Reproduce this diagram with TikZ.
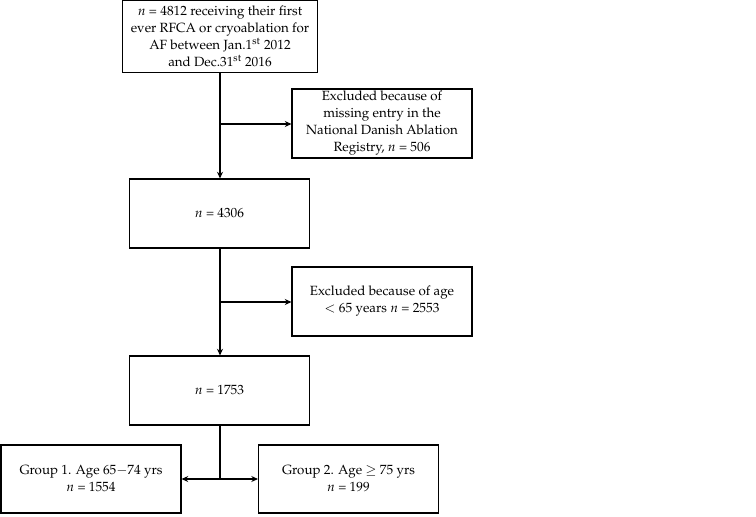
\documentclass[tikz,border=0pt]{standalone}
\usepackage{amsmath}
\usepackage[T1]{fontenc}
\usepackage{mathpazo}
\usetikzlibrary{arrows.meta}

\begin{document}
\begin{tikzpicture}[x=0.75pt,y=-0.75pt,
    box/.style={draw,line width=0.8pt,align=center,inner sep=0pt,
      font=\fontsize{10}{12.75}\selectfont},
    flow/.style={line width=1.1pt,-{Stealth[length=5pt,width=4.5pt]}}]

  \useasboundingbox (0,0) rectangle (756,517);

  \node[box,minimum width=146pt,minimum height=53.5pt] (start) at (220,36.5)
    {$n$ = 4812 receiving their first\\ever RFCA or cryoablation for\\AF between Jan.1\textsuperscript{st} 2012\\and Dec.31\textsuperscript{st} 2016};
  \node[box,minimum width=135pt,minimum height=51.75pt] (excl1) at (382,123.5)
    {Excluded because of\\missing entry in the\\National Danish Ablation\\Registry, $n$ = 506};
  \node[box,minimum width=135pt,minimum height=51.75pt] (n4306) at (219.5,213.5) {$n$ = 4306};
  \node[box,minimum width=135pt,minimum height=51.75pt] (excl2) at (382,301.5)
    {Excluded because of age\\$<$ 65 years $n$ = 2553};
  \node[box,minimum width=135pt,minimum height=51.75pt] (n1753) at (219.5,390.5) {$n$ = 1753};
  \node[box,minimum width=135pt,minimum height=51pt] (grp1) at (91,479)
    {Group 1. Age 65$-$74 yrs\\$n$ = 1554};
  \node[box,minimum width=135pt,minimum height=51pt] (grp2) at (348.5,479)
    {Group 2. Age $\geq$ 75 yrs\\$n$ = 199};

  \coordinate (b1) at (220,124);
  \coordinate (b2) at (220,302);
  \coordinate (b3) at (220,479);

  \draw[flow] (start.south -| b1) -- (n4306.north -| b1);
  \draw[flow] (b1) -- (b1 -| excl1.west);
  \draw[flow] (n4306.south -| b2) -- (n1753.north -| b2);
  \draw[flow] (b2) -- (b2 -| excl2.west);
  \draw[line width=1.1pt] (n1753.south -| b3) -- (b3);
  \draw[flow] (b3) -- (b3 -| grp1.east);
  \draw[flow] (b3) -- (b3 -| grp2.west);
\end{tikzpicture}
\end{document}
